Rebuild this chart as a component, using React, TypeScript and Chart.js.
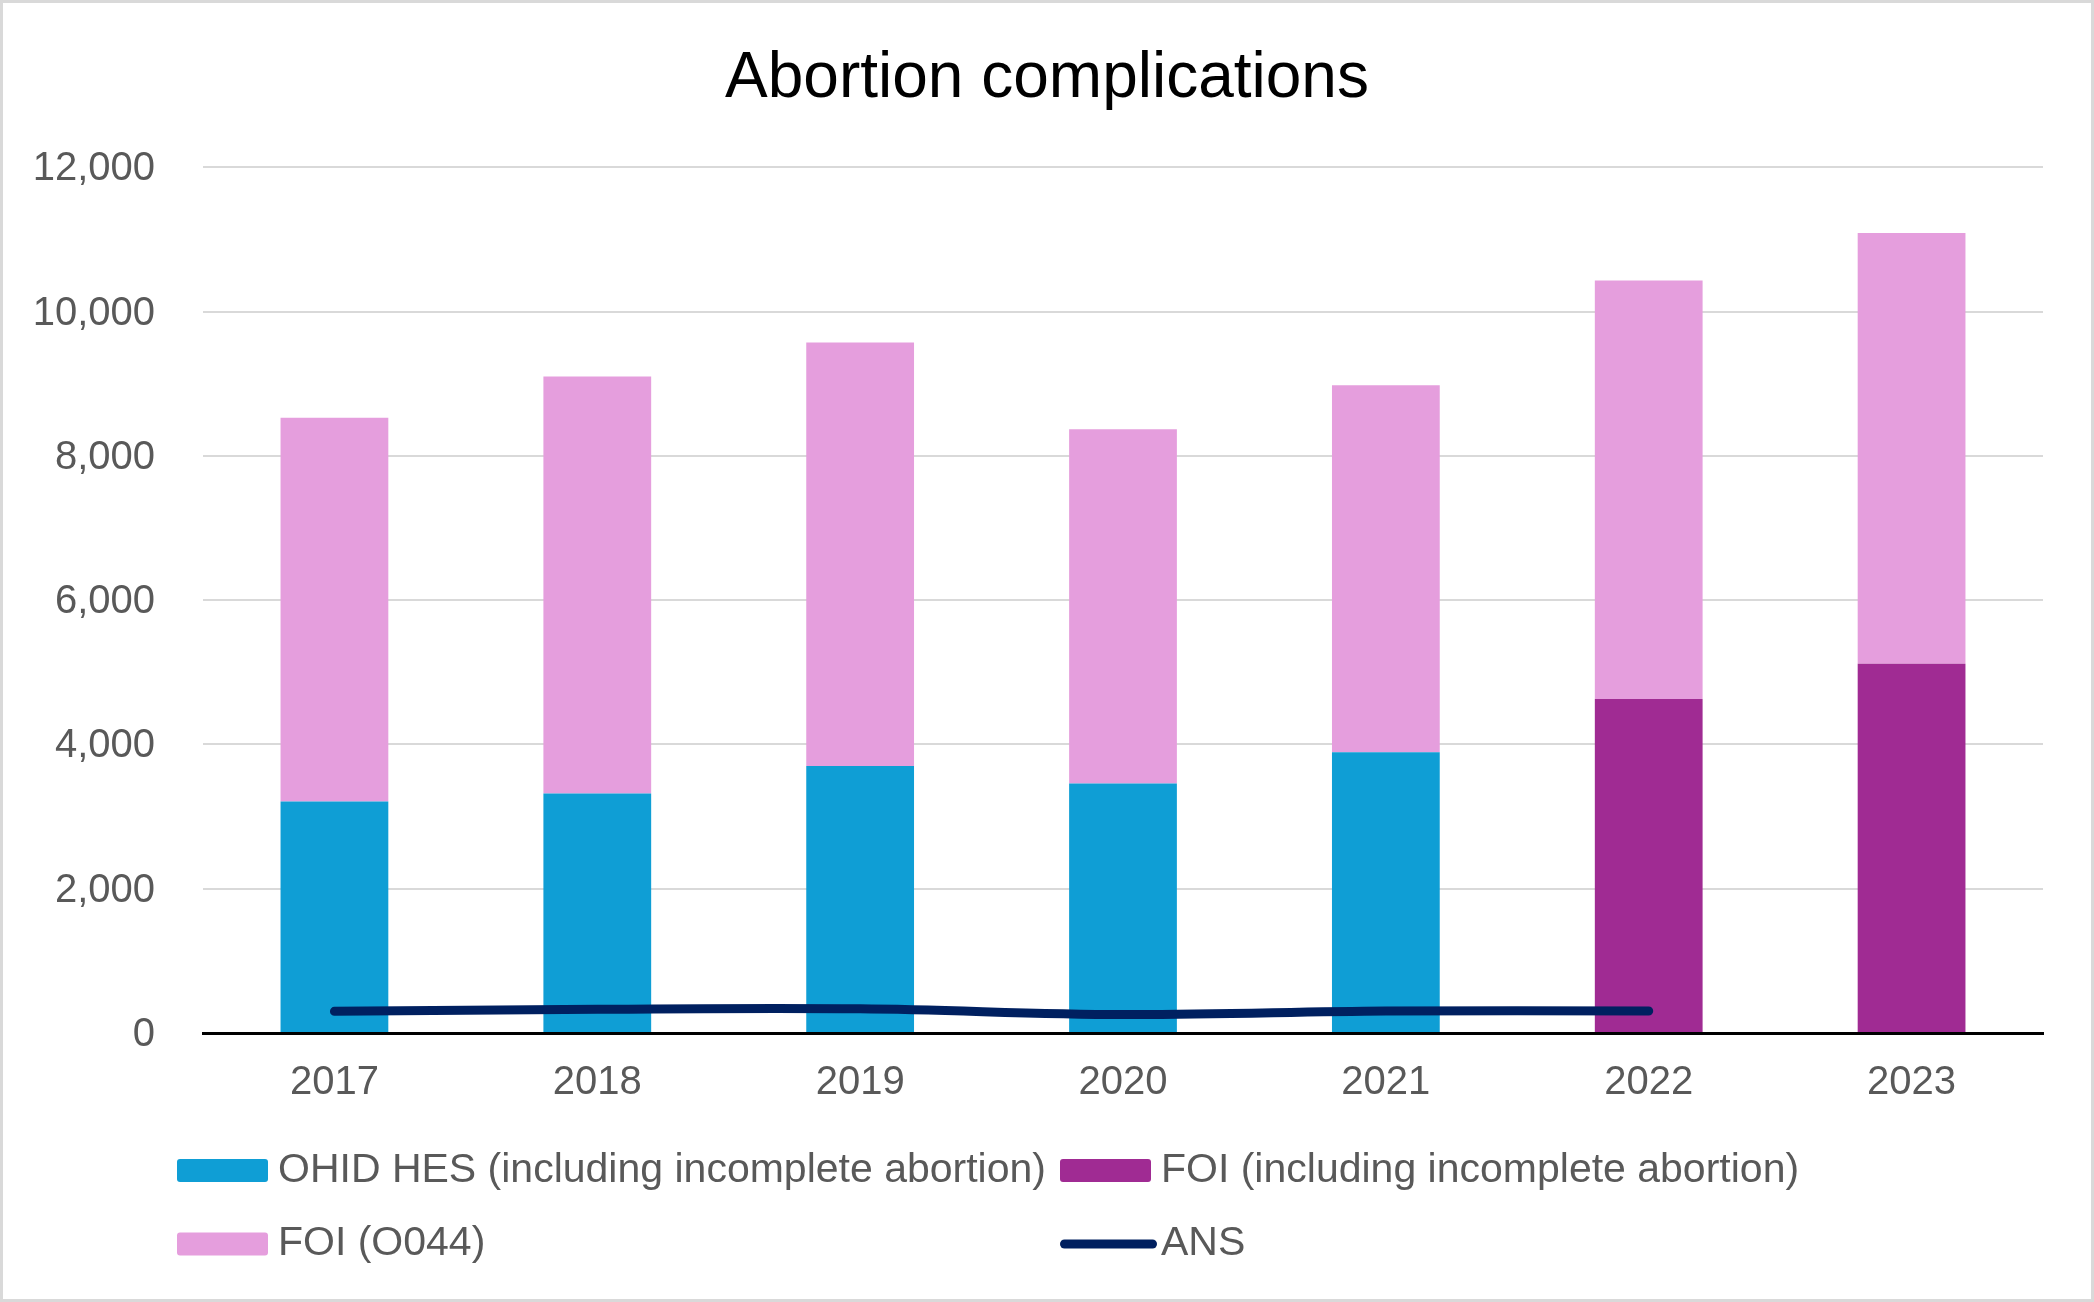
import React, { useEffect, useRef } from "react";
import { Chart, registerables } from "chart.js";

Chart.register(...registerables);

// ---- Data ----
const categories = ["2017", "2018", "2019", "2020", "2021", "2022", "2023"];
const ohidHes = [3210, 3320, 3700, 3460, 3890, null, null];
const foiIncomplete = [null, null, null, null, null, 4630, 5120];
const foiO044 = [5320, 5780, 5870, 4910, 5090, 5800, 5970];
const ans = [300, 330, 335, 255, 305, 305, null];
const yTickValues = [0, 2000, 4000, 6000, 8000, 10000, 12000];

const seriesNames = [
  "OHID HES (including incomplete abortion)",
  "FOI (including incomplete abortion)",
  "FOI (O044)",
  "ANS",
];
const titleText = "Abortion complications";

// ---- Styles ----
const COLORS = ["#0F9ED5", "#A02B93", "#E59EDD", "#002060"];
const FONT = '"Liberation Sans", Arial, sans-serif';
const TEXT_GRAY = "#595959";

const W = 2094;
const H = 1302;

const framePlugin = {
  id: "frame",
  beforeDraw(chart: any) {
    const ctx = chart.ctx;
    ctx.save();
    ctx.fillStyle = "#FFFFFF";
    ctx.fillRect(0, 0, chart.width, chart.height);
    ctx.restore();
  },
  afterDraw(chart: any) {
    const ctx = chart.ctx;
    ctx.save();
    ctx.strokeStyle = "#D9D9D9";
    ctx.lineWidth = 3;
    ctx.strokeRect(1.5, 1.5, chart.width - 3, chart.height - 3);
    ctx.restore();
  },
};

// legend laid out on a two-column grid, like the source
const legendPlugin = {
  id: "gridLegend",
  afterDraw(chart: any) {
    const ctx = chart.ctx;
    const colX = [177, 1060];
    const rowY = [1170.5, 1244];
    const boxW = 91;
    const boxH = 23;
    const textGap = 101;
    ctx.save();
    ctx.font = `41px ${FONT}`;
    ctx.textBaseline = "middle";
    ctx.textAlign = "left";
    chart.data.datasets.forEach((ds: any, i: number) => {
      const x = colX[i % 2];
      const y = rowY[Math.floor(i / 2)];
      if (ds.type === "line") {
        ctx.strokeStyle = ds.borderColor;
        ctx.lineWidth = 9;
        ctx.lineCap = "round";
        ctx.beginPath();
        ctx.moveTo(x + 4.5, y);
        ctx.lineTo(x + 97 - 4.5, y);
        ctx.stroke();
      } else {
        ctx.fillStyle = ds.backgroundColor;
        ctx.beginPath();
        if (ctx.roundRect) ctx.roundRect(x, y - boxH / 2, boxW, boxH, 3);
        else ctx.rect(x, y - boxH / 2, boxW, boxH);
        ctx.fill();
      }
      ctx.fillStyle = TEXT_GRAY;
      ctx.fillText(ds.label, x + textGap, y);
    });
    ctx.restore();
  },
};

export default function App() {
  const canvasRef = useRef<HTMLCanvasElement | null>(null);

  useEffect(() => {
    document.body.style.margin = "0";
    const canvas = canvasRef.current;
    if (!canvas) return;
    const chart = new Chart(canvas, {
      type: "bar",
      data: {
        labels: categories,
        datasets: [
          {
            type: "bar",
            label: seriesNames[0],
            data: ohidHes,
            backgroundColor: COLORS[0],
            stack: "bars",
            order: 1,
            borderWidth: 0,
            barPercentage: 0.41,
            categoryPercentage: 1,
          },
          {
            type: "bar",
            label: seriesNames[1],
            data: foiIncomplete,
            backgroundColor: COLORS[1],
            stack: "bars",
            order: 1,
            borderWidth: 0,
            barPercentage: 0.41,
            categoryPercentage: 1,
          },
          {
            type: "bar",
            label: seriesNames[2],
            data: foiO044,
            backgroundColor: COLORS[2],
            stack: "bars",
            order: 1,
            borderWidth: 0,
            barPercentage: 0.41,
            categoryPercentage: 1,
          },
          {
            type: "line",
            label: seriesNames[3],
            data: ans,
            borderColor: COLORS[3],
            backgroundColor: COLORS[3],
            borderWidth: 9,
            borderCapStyle: "round",
            borderJoinStyle: "round",
            pointRadius: 0,
            pointHoverRadius: 0,
            tension: 0.35,
            stack: "line",
            order: 0,
            spanGaps: false,
          },
        ] as any,
      },
      options: {
        responsive: false,
        animation: false,
        devicePixelRatio: 1,
        layout: { padding: { left: 20, right: 20, top: 10, bottom: 169 } },
        plugins: {
          legend: { display: false },
          tooltip: { enabled: false },
          title: {
            display: true,
            text: titleText,
            color: "#000000",
            font: { family: FONT, size: 64, weight: "normal" },
            padding: { top: 30.6, bottom: 49.9 },
          },
        },
        scales: {
          x: {
            stacked: true,
            grid: { display: false, drawTicks: false },
            border: { display: true, color: "#000000", width: 3 },
            ticks: {
              color: TEXT_GRAY,
              font: { family: FONT, size: 40 },
              padding: 26,
              maxRotation: 0,
            },
            afterFit: (scale: any) => {
              scale.height = 100;
            },
          },
          y: {
            stacked: true,
            min: yTickValues[0],
            max: yTickValues[yTickValues.length - 1],
            grid: { color: "#D9D9D9", lineWidth: 2, drawTicks: false },
            border: { display: false },
            afterBuildTicks: (scale: any) => {
              scale.ticks = yTickValues.map((v) => ({ value: v }));
            },
            ticks: {
              color: TEXT_GRAY,
              font: { family: FONT, size: 40 },
              padding: 48,
              labelOffset: 2,
              callback: (v: any) => Number(v).toLocaleString("en-US"),
            },
            afterFit: (scale: any) => {
              scale.width = 183;
            },
          },
          // empty right-hand spacer so the plot area ends where the source's does
          ySpacer: {
            position: "right",
            display: true,
            min: 0,
            max: 1,
            grid: { display: false, drawTicks: false },
            border: { display: false },
            ticks: { display: false },
            afterFit: (scale: any) => {
              scale.width = 31;
            },
          },
        },
      } as any,
      plugins: [framePlugin, legendPlugin],
    });
    return () => chart.destroy();
  }, []);

  return (
    <div style={{ width: W, height: H, overflow: "hidden" }}>
      <canvas ref={canvasRef} width={W} height={H} style={{ display: "block", width: W, height: H }} />
    </div>
  );
}
